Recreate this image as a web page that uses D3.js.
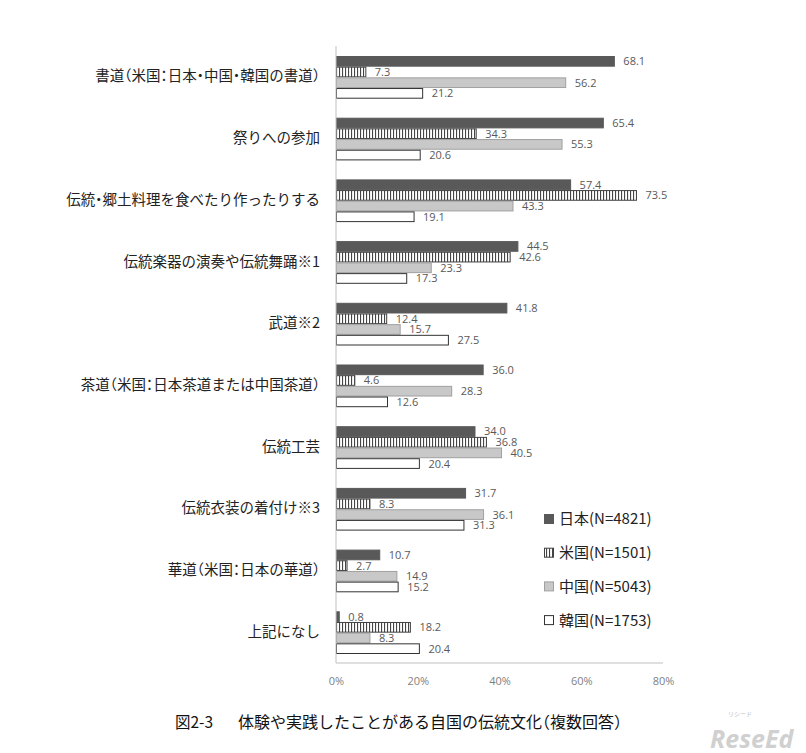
<!DOCTYPE html>
<html><head><meta charset="utf-8">
<script src="https://cdn.jsdelivr.net/npm/d3@7/dist/d3.min.js"></script>
<style>body{margin:0;background:#fff}svg{display:block}.halt{font-feature-settings:"halt" 1}</style>
</head><body>
<svg id="c" width="806" height="753"></svg>
<script>
const categories = ["書道（米国：日本・中国・韓国の書道）","祭りへの参加","伝統・郷土料理を食べたり作ったりする","伝統楽器の演奏や伝統舞踊※1","武道※2","茶道（米国：日本茶道または中国茶道）","伝統工芸","伝統衣装の着付け※3","華道（米国：日本の華道）","上記になし"];
const seriesNames = ["日本(N=4821)","米国(N=1501)","中国(N=5043)","韓国(N=1753)"];
const japan = [68.1,65.4,57.4,44.5,41.8,36.0,34.0,31.7,10.7,0.8];
const usa   = [7.3,34.3,73.5,42.6,12.4,4.6,36.8,8.3,2.7,18.2];
const china = [56.2,55.3,43.3,23.3,15.7,28.3,40.5,36.1,14.9,8.3];
const korea = [21.2,20.6,19.1,17.3,27.5,12.6,20.4,31.3,15.2,20.4];
const xTicks = [0,20,40,60,80];
const titleNo = "図2-3";
const titleText = "体験や実践したことがある自国の伝統文化（複数回答）";

const seriesVals = [japan, usa, china, korea];
const styles = [
  {fill:"#595959", stroke:"#595959"},
  {fill:"url(#stripe)", stroke:"#404040"},
  {fill:"#c8c8c8", stroke:"#a0a0a0"},
  {fill:"#ffffff", stroke:"#333333"}
];
const svg = d3.select("#c");
const jp = "'Noto Sans CJK JP','Noto Sans',sans-serif";
const num = "'Open Sans','Liberation Sans',sans-serif";

const defs = svg.append("defs");
const pat = defs.append("pattern").attr("id","stripe").attr("patternUnits","userSpaceOnUse")
  .attr("width",3).attr("height",10);
pat.append("rect").attr("width",3).attr("height",10).attr("fill","#fff");
pat.append("rect").attr("x",0).attr("width",1.1).attr("height",10).attr("fill","#444");

const x = d3.scaleLinear().domain([0,80]).range([336,663]);
const y = d3.scaleBand().domain(categories).range([46,663]).padding(0);
const inner = d3.scaleBand().domain(d3.range(4)).range([10, y.bandwidth()-9]).padding(0);

const g = svg.append("g");
categories.forEach((c,i)=>{
  seriesVals.forEach((vals,s)=>{
    const v = vals[i];
    const yy = y(c)+inner(s);
    g.append("rect")
      .attr("x", x(0)+0.5).attr("y", yy+0.5)
      .attr("width", Math.max(0, x(v)-x(0)-0.5)).attr("height", inner.bandwidth()-1)
      .attr("fill", styles[s].fill).attr("stroke", styles[s].stroke).attr("stroke-width",1);
    g.append("text")
      .attr("x", x(v)+9).attr("y", yy+inner.bandwidth()/2)
      .attr("dy","0.36em")
      .attr("font-family", num).attr("font-size",11).attr("fill","#595959")
      .text(v.toFixed(1));
  });
});

// axes
svg.append("line").attr("x1",x(0)).attr("x2",x(0)).attr("y1",46).attr("y2",663)
  .attr("stroke","#bfbfbf").attr("stroke-width",1);
svg.append("line").attr("x1",x(0)).attr("x2",x(80)).attr("y1",663).attr("y2",663)
  .attr("stroke","#bfbfbf").attr("stroke-width",1);

const yAxis = d3.axisLeft(y).tickSize(0).tickPadding(16);
const ya = svg.append("g").attr("transform",`translate(${x(0)},0)`).call(yAxis);
ya.select(".domain").remove();
ya.selectAll("text").attr("class","halt").attr("font-family",jp).attr("font-size",14.5).attr("fill","#222");

const xAxis = d3.axisBottom(x).tickValues(xTicks).tickFormat(d=>d+"%").tickSize(0).tickPadding(14);
const xa = svg.append("g").attr("transform","translate(0,663)").call(xAxis);
xa.select(".domain").remove();
xa.selectAll("text").attr("font-family",num).attr("font-size",11).attr("fill","#7f7f7f");

// legend
const leg = svg.append("g");
seriesNames.forEach((n,s)=>{
  const cy = 519 + s*33.7;
  leg.append("rect").attr("x",544.5).attr("y",cy-4.5).attr("width",9).attr("height",9)
    .attr("fill",styles[s].fill).attr("stroke",styles[s].stroke);
  leg.append("text").attr("x",559).attr("y",cy).attr("dy","0.36em")
    .attr("font-family",jp).attr("font-size",15).attr("fill","#222").text(n);
});

// title
svg.append("text").attr("x",175).attr("y",722).attr("dy","0.36em")
  .attr("font-family",jp).attr("font-size",15.5).attr("fill","#111").text(titleNo);
svg.append("text").attr("x",238).attr("y",722).attr("dy","0.36em").attr("class","halt")
  .attr("font-family",jp).attr("font-size",16).attr("fill","#111").text(titleText);

// watermark
svg.append("text").attr("x",710).attr("y",748)
  .attr("font-family","'Open Sans','Liberation Sans',sans-serif").attr("font-weight","bold")
  .attr("font-style","italic").attr("font-size",25).attr("fill","#d0d0d0").text("ReseEd");
svg.append("text").attr("x",728).attr("y",716)
  .attr("font-family",jp).attr("font-size",6).attr("fill","#c0c0c0").text("リシード");
</script>
</body></html>
